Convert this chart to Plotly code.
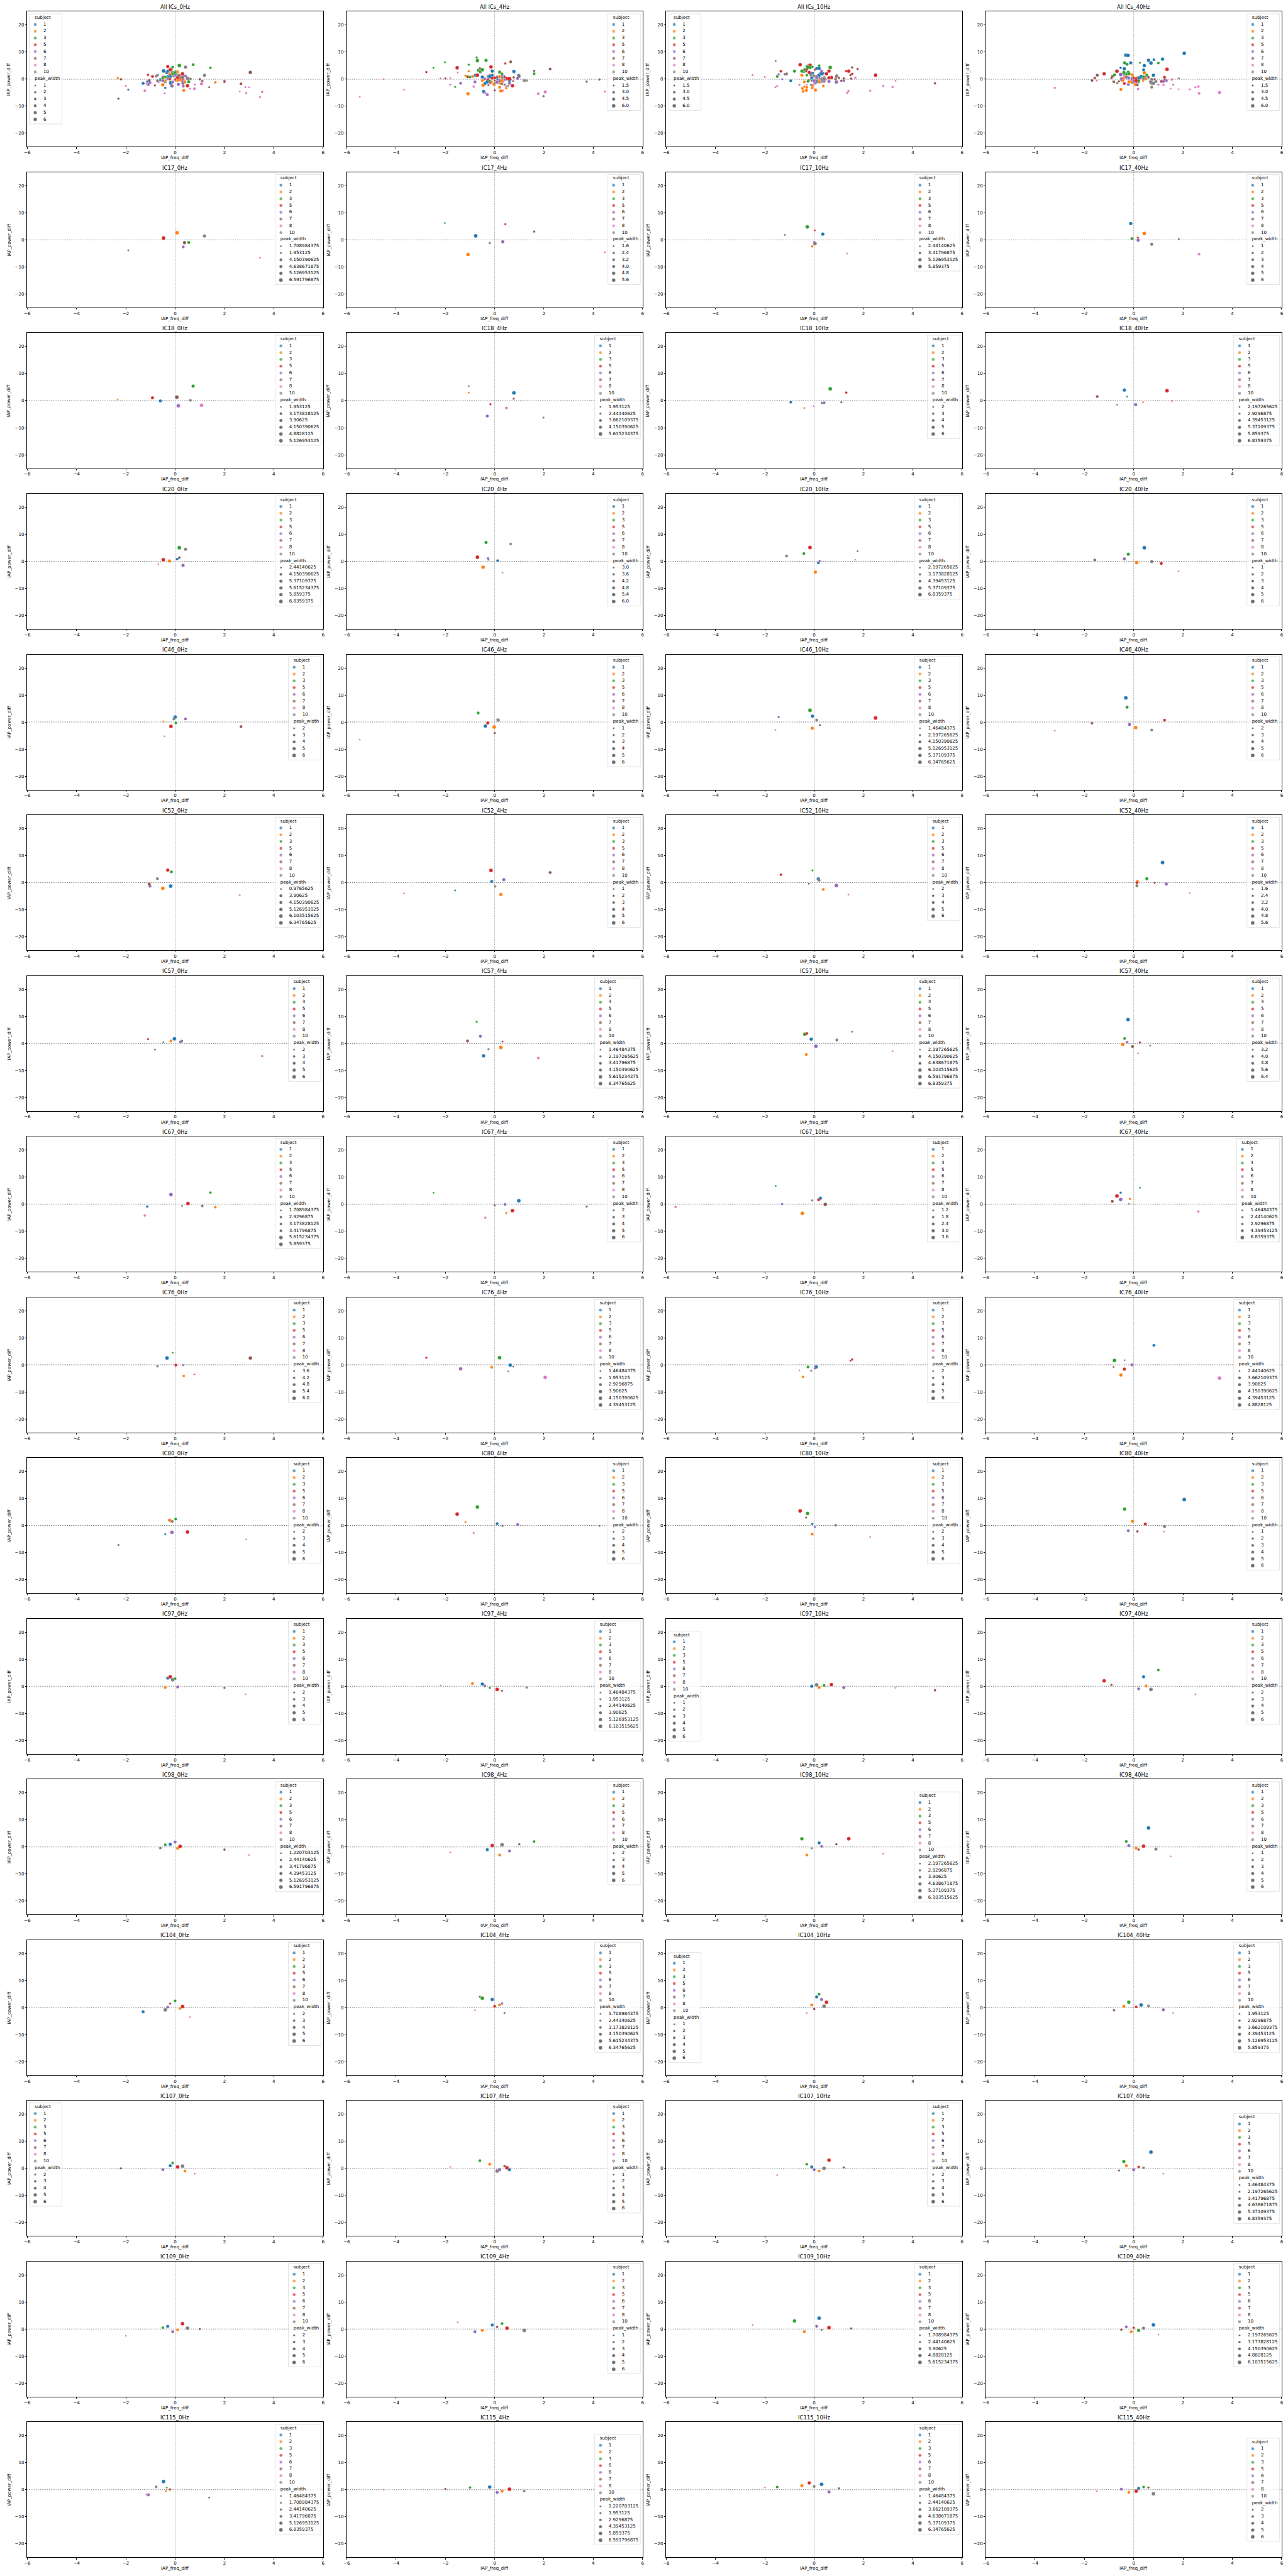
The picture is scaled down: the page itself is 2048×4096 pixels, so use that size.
import math
import plotly.graph_objects as go

# ---------------------------------------------------------------- categories
SUBJECTS = ["1", "2", "3", "5", "6", "7", "8", "10"]
SUBJECT_COLORS = ["#1f77b4", "#ff7f0e", "#2ca02c", "#d62728",
                  "#9467bd", "#8c564b", "#e377c2", "#7f7f7f"]
FREQS = ["0Hz", "4Hz", "10Hz", "40Hz"]
ICS = ["IC17", "IC18", "IC20", "IC46", "IC52", "IC57", "IC67", "IC76",
       "IC80", "IC97", "IC98", "IC104", "IC107", "IC109", "IC115"]
X_TICKS = [-6, -4, -2, 0, 2, 4, 6]
Y_TICKS = [-20, -10, 0, 10, 20]
X_RANGE = [-6, 6]
Y_RANGE = [-25, 25]
X_LABEL = "IAP_freq_diff"
Y_LABEL = "IAP_power_diff"

ALL_0Hz_ticks = ["1", "2", "3", "4", "5", "6"]
ALL_4Hz_ticks = ["1.5", "3.0", "4.5", "6.0"]
ALL_10Hz_ticks = ["1.5", "3.0", "4.5", "6.0"]
ALL_40Hz_ticks = ["1.5", "3.0", "4.5", "6.0"]

# ---------------------------------------------------------------- data
# every list is ordered by subject: 1, 2, 3, 5, 6, 7, 8, 10
IC17_0Hz_freq = [-1.90, 0.08, 0.55, -0.47, 0.33, 0.38, 3.44, 1.19]
IC17_0Hz_power = [-3.85, 2.66, -0.95, 0.68, -2.58, -1.00, -6.60, 1.47]
IC17_0Hz_width = [1.708984375, 6.591796875, 4.638671875, 6.591796875, 4.150390625, 5.126953125, 1.953125, 5.126953125]
IC17_0Hz_ticks = ["1.708984375", "1.953125", "4.150390625", "4.638671875", "5.126953125", "6.591796875"]

IC17_4Hz_freq = [-0.77, -1.08, -2.02, 0.43, 0.33, 1.60, 4.47, -0.20]
IC17_4Hz_power = [1.49, -5.37, 6.29, 5.83, -0.69, 3.09, -4.57, -1.14]
IC17_4Hz_width = [5.859375, 5.615234375, 1.46484375, 1.953125, 4.39453125, 2.197265625, 1.708984375, 2.44140625]
IC17_4Hz_ticks = ["1.6", "2.4", "3.2", "4.0", "4.8", "5.6"]

IC17_10Hz_freq = [0.35, -0.08, -0.28, 0.03, 0.00, -1.19, 1.34, 0.03]
IC17_10Hz_power = [2.17, -2.40, 4.80, 3.54, -0.80, 1.83, -5.03, -1.37]
IC17_10Hz_width = [5.126953125, 3.41796875, 5.859375, 2.44140625, 3.41796875, 2.44140625, 2.44140625, 5.859375]
IC17_10Hz_ticks = ["2.44140625", "3.41796875", "5.126953125", "5.859375"]

IC17_40Hz_freq = [-0.12, 0.43, -0.07, 0.17, 0.18, 1.83, 2.65, 0.73]
IC17_40Hz_power = [6.06, 2.40, 0.46, 0.80, -0.11, 0.34, -5.26, -1.60]
IC17_40Hz_width = [5.126953125, 6.103515625, 3.90625, 1.708984375, 4.638671875, 0.9765625, 3.41796875, 4.150390625]
IC17_40Hz_ticks = ["1", "2", "3", "4", "5", "6"]

IC18_0Hz_freq = [-0.60, -2.33, 0.73, -0.92, 0.13, 0.07, 1.07, 0.62]
IC18_0Hz_power = [-0.10, 0.46, 5.37, 1.03, -1.90, 1.26, -1.70, 0.10]
IC18_0Hz_width = [3.90625, 1.953125, 4.150390625, 3.90625, 4.8828125, 5.126953125, 4.8828125, 3.173828125]
IC18_0Hz_ticks = ["1.953125", "3.173828125", "3.90625", "4.150390625", "4.8828125", "5.126953125"]

IC18_4Hz_freq = [0.78, -1.05, -1.05, -0.17, -0.30, 0.77, 0.48, 1.98]
IC18_4Hz_power = [2.86, 2.97, 5.37, -1.37, -5.71, 0.69, -2.74, -6.29]
IC18_4Hz_width = [5.615234375, 1.953125, 1.953125, 2.44140625, 4.150390625, 2.44140625, 3.662109375, 2.44140625]
IC18_4Hz_ticks = ["1.953125", "2.44140625", "3.662109375", "4.150390625", "5.615234375"]

IC18_10Hz_freq = [-0.95, -0.40, 0.65, 1.30, 0.40, 1.10, -0.02, 0.32]
IC18_10Hz_power = [-0.57, -2.74, 4.34, 2.97, -0.80, -0.57, -2.06, -0.91]
IC18_10Hz_width = [3.90625, 2.197265625, 6.34765625, 2.9296875, 4.150390625, 2.44140625, 1.953125, 3.41796875]
IC18_10Hz_ticks = ["2", "3", "4", "5", "6"]

IC18_40Hz_freq = [-0.38, 0.38, -0.27, 1.35, 0.08, -1.48, 1.55, -0.67]
IC18_40Hz_power = [3.89, -0.57, 1.49, 3.66, -1.49, 1.49, -0.11, -1.49]
IC18_40Hz_width = [5.859375, 2.197265625, 2.197265625, 6.8359375, 5.37109375, 4.39453125, 2.9296875, 2.197265625]
IC18_40Hz_ticks = ["2.197265625", "2.9296875", "4.39453125", "5.37109375", "5.859375", "6.8359375"]

IC20_0Hz_freq = [0.08, -0.23, 0.17, -0.48, 0.32, 0.17, -0.68, 0.42]
IC20_0Hz_power = [0.80, 0.11, 5.03, 0.57, -1.49, 1.37, -1.03, 4.46]
IC20_0Hz_width = [4.150390625, 5.859375, 6.8359375, 6.8359375, 5.615234375, 4.150390625, 2.44140625, 5.37109375]
IC20_0Hz_ticks = ["2.44140625", "4.150390625", "5.37109375", "5.615234375", "5.859375", "6.8359375"]

IC20_4Hz_freq = [0.12, -0.47, -0.35, -0.70, -0.27, 0.65, 0.32, -0.25]
IC20_4Hz_power = [0.23, -2.17, 6.97, 1.49, 1.03, 6.40, -4.23, 0.60]
IC20_4Hz_width = [4.150390625, 5.859375, 4.8828125, 6.103515625, 4.39453125, 3.662109375, 2.9296875, 3.173828125]
IC20_4Hz_ticks = ["3.0", "3.6", "4.2", "4.8", "5.4", "6.0"]

IC20_10Hz_freq = [0.17, 0.05, -0.42, -0.17, 0.22, 1.76, 1.67, -1.12]
IC20_10Hz_power = [-0.57, -4.00, 2.86, 5.14, 0.11, 3.77, 0.57, 1.94]
IC20_10Hz_width = [4.39453125, 5.37109375, 4.39453125, 6.8359375, 3.173828125, 2.197265625, 2.197265625, 4.39453125]
IC20_10Hz_ticks = ["2.197265625", "3.173828125", "4.39453125", "5.37109375", "6.8359375"]

IC20_40Hz_freq = [0.43, 0.12, -0.22, 1.12, -0.38, -1.58, 1.82, 0.73]
IC20_40Hz_power = [5.03, -0.46, 2.63, -0.80, 0.91, 0.46, -3.66, -0.11]
IC20_40Hz_width = [6.103515625, 5.615234375, 4.39453125, 3.90625, 4.150390625, 3.173828125, 0.9765625, 4.638671875]
IC20_40Hz_ticks = ["1", "2", "3", "4", "5", "6"]

IC46_0Hz_freq = [0.00, -0.47, 0.03, -0.17, 0.42, 2.67, -0.43, -0.05]
IC46_0Hz_power = [1.83, 0.23, -0.34, -1.60, 1.14, -1.71, -5.26, 1.14]
IC46_0Hz_width = [5.615234375, 1.953125, 3.41796875, 6.103515625, 4.150390625, 3.662109375, 1.708984375, 3.90625]
IC46_0Hz_ticks = ["2", "3", "4", "5", "6"]

IC46_4Hz_freq = [-0.38, -0.02, -0.67, -0.28, 0.12, 0.00, -5.47, 0.15]
IC46_4Hz_power = [-1.49, -1.83, 3.31, -0.34, 0.90, -4.11, -6.51, 0.69]
IC46_4Hz_width = [5.615234375, 6.103515625, 3.90625, 4.39453125, 2.9296875, 1.953125, 0.9765625, 4.150390625]
IC46_4Hz_ticks = ["1", "2", "3", "4", "5", "6"]

IC46_10Hz_freq = [-0.07, -0.08, -0.17, 2.49, -1.44, 0.23, -1.57, 0.10]
IC46_10Hz_power = [2.17, -2.29, 4.34, 1.49, 1.83, -1.14, -2.97, 0.69]
IC46_10Hz_width = [5.37109375, 5.126953125, 6.34765625, 6.34765625, 2.197265625, 2.197265625, 1.46484375, 4.150390625]
IC46_10Hz_ticks = ["1.46484375", "2.197265625", "4.150390625", "5.126953125", "5.37109375", "6.34765625"]

IC46_40Hz_freq = [-0.32, 0.08, -0.27, 1.25, -0.17, -1.69, -3.20, 0.73]
IC46_40Hz_power = [8.91, -2.06, 5.49, 0.69, -0.91, -0.46, -3.20, -2.97]
IC46_40Hz_width = [6.103515625, 5.615234375, 4.39453125, 4.150390625, 4.638671875, 3.41796875, 1.953125, 3.90625]
IC46_40Hz_ticks = ["2", "3", "4", "5", "6"]

IC52_0Hz_freq = [-0.18, -0.50, -0.15, -0.30, -1.02, -1.05, 2.62, -0.72]
IC52_0Hz_power = [-1.26, -2.06, 4.00, 4.69, -1.26, -0.46, -4.57, 1.49]
IC52_0Hz_width = [6.34765625, 6.103515625, 3.90625, 5.126953125, 4.150390625, 4.150390625, 0.9765625, 3.90625]
IC52_0Hz_ticks = ["0.9765625", "3.90625", "4.150390625", "5.126953125", "6.103515625", "6.34765625"]

IC52_4Hz_freq = [-0.12, 0.25, -1.60, -0.15, 0.37, 2.25, -3.68, 0.02]
IC52_4Hz_power = [0.46, -4.34, -2.86, 4.57, 1.14, 3.77, -3.89, -1.37]
IC52_4Hz_width = [4.150390625, 4.8828125, 1.46484375, 6.103515625, 4.638671875, 3.662109375, 0.9765625, 2.44140625]
IC52_4Hz_ticks = ["1", "2", "3", "4", "5", "6"]

IC52_10Hz_freq = [0.17, 0.37, -0.07, -1.35, 0.90, -0.22, 1.39, 0.20]
IC52_10Hz_power = [1.37, -2.51, 4.57, 2.97, -1.03, -0.34, -4.34, 0.91]
IC52_10Hz_width = [5.37109375, 3.662109375, 2.44140625, 3.41796875, 6.103515625, 2.197265625, 1.953125, 3.90625]
IC52_10Hz_ticks = ["2", "3", "4", "5", "6"]

IC52_40Hz_freq = [1.17, 0.15, 0.53, 0.13, 1.32, 0.85, 2.27, 0.13]
IC52_40Hz_power = [7.43, 0.46, 1.49, 0.00, -0.46, 0.00, -3.77, -1.14]
IC52_40Hz_width = [5.859375, 4.39453125, 4.150390625, 3.662109375, 4.638671875, 2.197265625, 1.46484375, 3.90625]
IC52_40Hz_ticks = ["1.6", "2.4", "3.2", "4.0", "4.8", "5.6"]

IC57_0Hz_freq = [-0.03, -0.17, 0.27, -1.10, 0.22, -0.82, 3.53, -0.48]
IC57_0Hz_power = [1.71, 0.91, 0.91, 1.60, 0.57, -2.29, -4.69, 0.46]
IC57_0Hz_width = [6.103515625, 3.90625, 3.662109375, 2.44140625, 4.150390625, 1.953125, 2.9296875, 2.197265625]
IC57_0Hz_ticks = ["2", "3", "4", "5", "6"]

IC57_4Hz_freq = [-0.45, 0.25, -0.73, 0.32, -0.58, -1.10, 1.77, -0.25]
IC57_4Hz_power = [-4.57, -1.49, 8.00, 0.69, 2.63, 0.91, -5.37, -2.17]
IC57_4Hz_width = [5.615234375, 6.34765625, 2.197265625, 1.46484375, 4.150390625, 4.150390625, 3.41796875, 2.197265625]
IC57_4Hz_ticks = ["1.46484375", "2.197265625", "3.41796875", "4.150390625", "5.615234375", "6.34765625"]

IC57_10Hz_freq = [-0.12, -0.32, -0.38, -0.30, 0.07, 1.54, 3.18, 0.92]
IC57_10Hz_power = [1.60, -4.11, 3.43, 3.66, -1.03, 4.34, -2.86, 1.26]
IC57_10Hz_width = [6.103515625, 4.638671875, 6.591796875, 4.150390625, 6.8359375, 2.197265625, 2.197265625, 4.638671875]
IC57_10Hz_ticks = ["2.197265625", "4.150390625", "4.638671875", "6.103515625", "6.591796875", "6.8359375"]

IC57_40Hz_freq = [-0.23, -0.45, -0.37, 0.25, -0.27, -0.05, 0.18, 0.67]
IC57_40Hz_power = [8.80, -0.34, 1.83, 0.34, 0.46, -1.14, -3.66, -0.80]
IC57_40Hz_width = [6.591796875, 6.103515625, 4.638671875, 3.41796875, 4.39453125, 4.8828125, 2.9296875, 3.173828125]
IC57_40Hz_ticks = ["3.2", "4.0", "4.8", "5.6", "6.4"]

IC67_0Hz_freq = [-1.13, 1.63, 1.43, 0.52, -0.17, 0.28, -1.23, 1.10]
IC67_0Hz_power = [-0.91, -1.14, 4.23, 0.23, 3.54, -0.69, -4.23, -0.69]
IC67_0Hz_width = [2.9296875, 3.173828125, 2.9296875, 5.615234375, 5.859375, 1.708984375, 3.173828125, 3.41796875]
IC67_0Hz_ticks = ["1.708984375", "2.9296875", "3.173828125", "3.41796875", "5.615234375", "5.859375"]

IC67_4Hz_freq = [0.98, 0.47, -2.48, 0.72, 0.42, 0.00, -0.38, 3.73]
IC67_4Hz_power = [1.26, -3.31, 4.23, -2.40, -0.11, -0.46, -5.03, -0.91]
IC67_4Hz_width = [6.103515625, 2.197265625, 1.46484375, 5.859375, 3.90625, 1.953125, 2.44140625, 2.685546875]
IC67_4Hz_ticks = ["2", "3", "4", "5", "6"]

IC67_10Hz_freq = [0.25, -0.48, -1.56, 0.18, -1.30, 0.45, -5.62, -0.08]
IC67_10Hz_power = [2.17, -3.43, 6.74, 1.60, 0.00, -0.11, -1.03, 1.37]
IC67_10Hz_width = [3.173828125, 3.90625, 0.9765625, 2.44140625, 1.708984375, 3.662109375, 1.953125, 1.46484375]
IC67_10Hz_ticks = ["1.2", "1.8", "2.4", "3.0", "3.6"]

IC67_40Hz_freq = [-0.53, -0.15, 0.25, -0.68, -0.53, -0.87, 2.62, -0.20]
IC67_40Hz_power = [4.23, 1.94, 6.06, 2.97, 1.71, 1.03, -2.74, 0.11]
IC67_40Hz_width = [2.44140625, 2.44140625, 1.46484375, 6.8359375, 6.8359375, 4.39453125, 2.9296875, 1.46484375]
IC67_40Hz_ticks = ["1.46484375", "2.44140625", "2.9296875", "4.39453125", "6.8359375"]

IC76_0Hz_freq = [-0.33, 0.35, -0.10, 0.03, 0.32, 3.05, 0.78, -0.72]
IC76_0Hz_power = [2.51, -4.11, 4.46, -0.11, -0.11, 2.51, -3.54, -0.57]
IC76_0Hz_width = [6.103515625, 4.39453125, 3.41796875, 4.8828125, 3.90625, 5.859375, 3.662109375, 4.150390625]
IC76_0Hz_ticks = ["3.6", "4.2", "4.8", "5.4", "6.0"]

IC76_4Hz_freq = [0.63, -0.12, 0.20, -2.77, -1.38, 0.75, 2.05, 0.55]
IC76_4Hz_power = [-0.11, -0.91, 2.63, 2.63, -1.49, -0.69, -4.69, -2.40]
IC76_4Hz_width = [4.150390625, 2.9296875, 4.39453125, 1.953125, 3.90625, 1.46484375, 4.39453125, 1.46484375]
IC76_4Hz_ticks = ["1.46484375", "1.953125", "2.9296875", "3.90625", "4.150390625", "4.39453125"]

IC76_10Hz_freq = [0.08, -0.45, -0.25, 1.54, 0.03, 1.47, -0.60, -0.12]
IC76_10Hz_power = [-0.80, -4.46, -0.80, 1.94, -1.26, 1.49, -2.06, -2.17]
IC76_10Hz_width = [6.103515625, 3.41796875, 4.150390625, 2.9296875, 3.173828125, 2.197265625, 1.953125, 2.44140625]
IC76_10Hz_ticks = ["2", "3", "4", "5", "6"]

IC76_40Hz_freq = [0.82, -0.52, -0.78, -0.38, -0.07, -0.82, 3.48, -0.37]
IC76_40Hz_power = [7.20, -3.77, 1.60, -1.60, 0.00, -0.80, -4.91, 1.71]
IC76_40Hz_width = [3.662109375, 4.39453125, 4.8828125, 4.150390625, 3.90625, 2.44140625, 4.8828125, 2.44140625]
IC76_40Hz_ticks = ["2.44140625", "3.662109375", "3.90625", "4.150390625", "4.39453125", "4.8828125"]

IC80_0Hz_freq = [-0.40, -0.22, 0.02, 0.50, -0.13, -2.30, 2.88, -0.12]
IC80_0Hz_power = [-3.20, 1.94, 2.40, -2.40, -2.51, -7.20, -5.14, 1.49]
IC80_0Hz_width = [2.44140625, 5.37109375, 3.90625, 6.103515625, 5.615234375, 2.197265625, 1.953125, 4.150390625]
IC80_0Hz_ticks = ["2", "3", "4", "5", "6"]

IC80_4Hz_freq = [0.10, -1.18, -0.70, -1.52, 0.93, 4.25, -0.85, 0.32]
IC80_4Hz_power = [0.69, 1.26, 6.86, 4.23, 0.34, -0.11, -2.74, -0.11]
IC80_4Hz_width = [4.150390625, 2.197265625, 5.859375, 6.103515625, 4.39453125, 1.953125, 2.44140625, 2.685546875]
IC80_4Hz_ticks = ["2", "3", "4", "5", "6"]

IC80_10Hz_freq = [-0.08, -0.08, -0.27, -0.57, 0.03, -0.33, 2.27, 0.87]
IC80_10Hz_power = [0.57, -3.20, 4.46, 5.37, -0.57, 2.97, -4.23, 0.11]
IC80_10Hz_width = [2.9296875, 4.150390625, 5.615234375, 6.103515625, 2.685546875, 2.44140625, 1.953125, 3.90625]
IC80_10Hz_ticks = ["2", "3", "4", "5", "6"]

IC80_40Hz_freq = [2.05, -0.05, -0.37, 0.47, -0.22, 0.15, 1.22, 1.25]
IC80_40Hz_power = [9.60, 1.60, 6.06, 0.57, -1.94, -2.17, -2.29, -0.34]
IC80_40Hz_width = [6.34765625, 4.638671875, 5.126953125, 4.150390625, 3.90625, 2.685546875, 0.9765625, 4.39453125]
IC80_40Hz_ticks = ["1", "2", "3", "4", "5", "6"]

IC97_0Hz_freq = [-0.30, -0.40, 0.00, -0.20, 0.10, 2.00, 2.85, -0.10]
IC97_0Hz_power = [3.00, -0.50, 2.80, 3.50, -0.30, -0.60, -3.00, 2.40]
IC97_0Hz_width = [4.39453125, 3.90625, 3.41796875, 5.859375, 4.150390625, 2.44140625, 1.708984375, 6.103515625]
IC97_0Hz_ticks = ["2", "3", "4", "5", "6"]

IC97_4Hz_freq = [-0.50, -0.90, -0.20, 0.10, -0.40, 0.30, -2.20, 1.30]
IC97_4Hz_power = [0.80, 1.00, -0.60, -1.20, 0.10, -1.70, 0.30, -0.50]
IC97_4Hz_width = [5.126953125, 3.90625, 2.44140625, 6.103515625, 3.90625, 1.953125, 1.46484375, 2.44140625]
IC97_4Hz_ticks = ["1.46484375", "1.953125", "2.44140625", "3.90625", "5.126953125", "6.103515625"]

IC97_10Hz_freq = [-0.10, 0.20, 0.40, 0.70, 1.20, 4.90, 3.30, 0.10]
IC97_10Hz_power = [0.00, -0.50, 0.30, 0.60, -0.50, -1.50, -0.60, 0.50]
IC97_10Hz_width = [4.39453125, 3.90625, 3.41796875, 5.859375, 4.150390625, 2.44140625, 0.9765625, 6.103515625]
IC97_10Hz_ticks = ["1", "2", "3", "4", "5", "6"]

IC97_40Hz_freq = [0.40, 0.50, 1.00, -1.20, 0.20, -0.90, 2.50, 0.70]
IC97_40Hz_power = [3.50, 0.10, 6.00, 2.00, -1.00, 0.50, -3.00, -1.20]
IC97_40Hz_width = [4.39453125, 3.90625, 3.41796875, 5.859375, 4.150390625, 2.44140625, 1.708984375, 6.103515625]
IC97_40Hz_ticks = ["2", "3", "4", "5", "6"]

IC98_0Hz_freq = [-0.20, 0.10, -0.40, 0.20, 0.00, 2.00, 3.00, -0.60]
IC98_0Hz_power = [1.00, -0.50, 0.80, 0.20, 1.80, -1.00, -3.00, -0.40]
IC98_0Hz_width = [5.126953125, 4.39453125, 3.41796875, 6.591796875, 4.39453125, 2.44140625, 1.220703125, 3.41796875]
IC98_0Hz_ticks = ["1.220703125", "2.44140625", "3.41796875", "4.39453125", "5.126953125", "6.591796875"]

IC98_4Hz_freq = [-0.30, 0.20, 1.60, -0.10, 0.60, 1.00, -1.80, 0.30]
IC98_4Hz_power = [-1.00, -3.00, 2.00, 0.50, -1.50, 1.00, -2.00, 0.80]
IC98_4Hz_width = [4.39453125, 3.90625, 3.41796875, 5.859375, 4.150390625, 2.44140625, 1.708984375, 6.103515625]
IC98_4Hz_ticks = ["2", "3", "4", "5", "6"]

IC98_10Hz_freq = [0.20, -0.30, -0.50, 1.40, 0.30, 0.90, 2.80, -0.10]
IC98_10Hz_power = [1.50, -3.00, 3.00, 3.00, 0.20, 1.00, -2.50, -0.50]
IC98_10Hz_width = [4.638671875, 3.90625, 5.37109375, 6.103515625, 3.90625, 2.9296875, 2.197265625, 2.9296875]
IC98_10Hz_ticks = ["2.197265625", "2.9296875", "3.90625", "4.638671875", "5.37109375", "6.103515625"]

IC98_40Hz_freq = [0.60, 0.10, -0.30, 0.40, -0.20, 0.20, 1.50, 0.90]
IC98_40Hz_power = [7.00, -0.50, 2.00, 0.30, 0.50, -1.00, -3.50, -0.80]
IC98_40Hz_width = [6.103515625, 3.90625, 3.41796875, 5.859375, 4.150390625, 2.44140625, 0.9765625, 4.39453125]
IC98_40Hz_ticks = ["1", "2", "3", "4", "5", "6"]

IC104_0Hz_freq = [-1.30, 0.20, 0.00, 0.30, -0.30, -0.20, 0.60, -0.40]
IC104_0Hz_power = [-1.50, -0.30, 2.50, 0.40, 0.20, 1.50, -3.50, -0.80]
IC104_0Hz_width = [4.39453125, 3.90625, 3.41796875, 5.859375, 4.150390625, 2.44140625, 1.708984375, 6.103515625]
IC104_0Hz_ticks = ["2", "3", "4", "5", "6"]

IC104_4Hz_freq = [-0.10, 0.20, -0.50, 0.00, 0.30, -0.60, -0.80, 0.40]
IC104_4Hz_power = [3.00, 1.00, 3.50, 0.50, 1.50, 4.00, -1.00, -2.00]
IC104_4Hz_width = [5.615234375, 4.150390625, 6.34765625, 4.150390625, 3.173828125, 2.44140625, 1.708984375, 2.44140625]
IC104_4Hz_ticks = ["1.708984375", "2.44140625", "3.173828125", "4.150390625", "5.615234375", "6.34765625"]

IC104_10Hz_freq = [0.10, -0.10, 0.20, 0.50, 0.30, 0.00, -0.30, 0.40]
IC104_10Hz_power = [4.00, 1.00, 5.00, 2.00, 3.00, -0.50, -2.00, 0.50]
IC104_10Hz_width = [4.39453125, 3.90625, 3.41796875, 5.859375, 4.150390625, 2.44140625, 0.9765625, 6.103515625]
IC104_10Hz_ticks = ["1", "2", "3", "4", "5", "6"]

IC104_40Hz_freq = [0.30, -0.40, -0.20, 0.10, 1.20, -0.80, 1.60, 0.60]
IC104_40Hz_power = [1.00, 0.50, 2.00, 0.30, -0.80, -1.00, -2.00, 0.60]
IC104_40Hz_width = [5.859375, 4.39453125, 5.126953125, 3.662109375, 4.39453125, 2.9296875, 1.953125, 3.662109375]
IC104_40Hz_ticks = ["1.953125", "2.9296875", "3.662109375", "4.39453125", "5.126953125", "5.859375"]

IC107_0Hz_freq = [-0.20, 0.40, -0.10, 0.10, -0.50, -2.20, 0.80, 0.30]
IC107_0Hz_power = [1.00, -1.00, 2.00, 0.50, -0.50, 0.00, -2.00, 0.80]
IC107_0Hz_width = [4.39453125, 3.90625, 3.41796875, 5.859375, 4.150390625, 2.44140625, 1.708984375, 6.103515625]
IC107_0Hz_ticks = ["2", "3", "4", "5", "6"]

IC107_4Hz_freq = [0.60, -0.20, -0.60, 0.50, 0.20, 0.40, -1.80, 0.10]
IC107_4Hz_power = [-0.50, 1.50, 2.80, 0.20, -0.50, 0.80, 0.50, -1.00]
IC107_4Hz_width = [4.39453125, 3.90625, 3.41796875, 5.859375, 4.150390625, 2.44140625, 0.9765625, 6.103515625]
IC107_4Hz_ticks = ["1", "2", "3", "4", "5", "6"]

IC107_10Hz_freq = [-0.10, 0.20, -0.30, 0.60, 0.00, 1.20, -1.50, 0.40]
IC107_10Hz_power = [0.50, -1.00, 1.50, 3.00, -0.50, 0.30, -2.50, 0.00]
IC107_10Hz_width = [4.39453125, 3.90625, 3.41796875, 5.859375, 4.150390625, 2.44140625, 1.708984375, 6.103515625]
IC107_10Hz_ticks = ["2", "3", "4", "5", "6"]

IC107_40Hz_freq = [0.70, -0.30, -0.40, 0.20, 0.00, -0.60, 1.20, 0.40]
IC107_40Hz_power = [6.00, 1.00, 2.50, 0.50, -0.50, -0.80, -2.00, 0.20]
IC107_40Hz_width = [6.8359375, 4.638671875, 5.37109375, 3.41796875, 4.638671875, 2.197265625, 1.46484375, 3.41796875]
IC107_40Hz_ticks = ["1.46484375", "2.197265625", "3.41796875", "4.638671875", "5.37109375", "6.8359375"]

IC109_0Hz_freq = [-0.30, 0.10, -0.50, 0.30, -0.10, 1.00, -2.00, 0.50]
IC109_0Hz_power = [1.00, -0.30, 0.50, 2.00, -1.00, 0.00, -2.50, 0.30]
IC109_0Hz_width = [4.39453125, 3.90625, 3.41796875, 5.859375, 4.150390625, 2.44140625, 1.708984375, 6.103515625]
IC109_0Hz_ticks = ["2", "3", "4", "5", "6"]

IC109_4Hz_freq = [-0.10, -0.50, 0.30, 0.50, -0.80, 0.10, -1.50, 1.20]
IC109_4Hz_power = [1.50, -0.50, 2.00, 0.30, -1.00, 0.80, 2.50, -0.50]
IC109_4Hz_width = [4.39453125, 3.90625, 3.41796875, 5.859375, 4.150390625, 2.44140625, 0.9765625, 6.103515625]
IC109_4Hz_ticks = ["1", "2", "3", "4", "5", "6"]

IC109_10Hz_freq = [0.20, -0.40, -0.80, 0.60, 0.10, 1.50, -2.50, 0.30]
IC109_10Hz_power = [4.00, -1.00, 3.00, 0.50, 1.00, 0.20, 1.50, -0.30]
IC109_10Hz_width = [5.615234375, 3.90625, 4.8828125, 5.615234375, 3.90625, 2.44140625, 1.708984375, 2.44140625]
IC109_10Hz_ticks = ["1.708984375", "2.44140625", "3.90625", "4.8828125", "5.615234375"]

IC109_40Hz_freq = [0.80, -0.10, 0.20, 0.00, -0.30, -0.50, 1.00, 0.40]
IC109_40Hz_power = [1.50, -1.00, -0.50, 0.50, 0.80, -0.20, -2.00, 0.30]
IC109_40Hz_width = [6.103515625, 4.150390625, 4.8828125, 3.173828125, 4.150390625, 3.173828125, 2.197265625, 4.8828125]
IC109_40Hz_ticks = ["2.197265625", "3.173828125", "4.150390625", "4.8828125", "6.103515625"]

IC115_0Hz_freq = [-0.47, -0.38, -0.34, -0.21, -1.09, 1.38, -1.16, -0.77]
IC115_0Hz_power = [3.06, -0.56, 0.76, 0.08, -1.87, -2.94, -1.71, 1.07]
IC115_0Hz_width = [6.8359375, 1.708984375, 1.46484375, 2.44140625, 5.126953125, 1.46484375, 1.708984375, 3.41796875]
IC115_0Hz_ticks = ["1.46484375", "1.708984375", "2.44140625", "3.41796875", "5.126953125", "6.8359375"]

IC115_4Hz_freq = [-0.20, 0.30, -1.00, 0.60, 0.10, -2.00, -4.50, 1.20]
IC115_4Hz_power = [1.00, -0.50, 0.80, 0.20, -1.00, 0.30, 0.00, -0.50]
IC115_4Hz_width = [5.859375, 4.39453125, 2.9296875, 6.591796875, 4.39453125, 1.953125, 1.220703125, 2.9296875]
IC115_4Hz_ticks = ["1.220703125", "1.953125", "2.9296875", "4.39453125", "5.859375", "6.591796875"]

IC115_10Hz_freq = [0.30, -0.50, -1.50, -0.20, 0.60, 1.00, -2.00, 0.00]
IC115_10Hz_power = [2.00, 1.50, 1.00, 2.50, -0.80, 0.50, 0.80, 1.20]
IC115_10Hz_width = [6.34765625, 4.638671875, 3.662109375, 5.37109375, 4.638671875, 2.44140625, 1.46484375, 3.662109375]
IC115_10Hz_ticks = ["1.46484375", "2.44140625", "3.662109375", "4.638671875", "5.37109375", "6.34765625"]

IC115_40Hz_freq = [0.20, -0.20, 0.40, 0.10, -0.50, 0.60, -1.50, 0.80]
IC115_40Hz_power = [0.50, -1.00, 1.00, -0.50, 0.20, 0.80, -0.50, -1.50]
IC115_40Hz_width = [4.39453125, 3.90625, 3.41796875, 5.859375, 4.150390625, 2.44140625, 1.708984375, 6.103515625]
IC115_40Hz_ticks = ["2", "3", "4", "5", "6"]

# legend placement ("best" location picked by matplotlib); default upper right
LEGEND_LOC_ALL = ["ul", "ur", "ul", "ur"]
LEGEND_LOC_EXCEPTIONS = {"IC97_10Hz": "cl", "IC98_10Hz": "cr", "IC104_10Hz": "cl",
                         "IC107_0Hz": "ul", "IC107_40Hz": "cr", "IC115_40Hz": "cr",
                         "IC115_4Hz": "cr"}

# ---------------------------------------------------------------- layout (reference px)
S = 0.512
REF_W, REF_H = 4000.0, 8000.0
COL_LEFT = [75.0 + 996.2 * c for c in range(4)]
ROW_TOP = [36.0 + 499.07 * r for r in range(16)]
PLOT_W, PLOT_H = 922.5, 420.0
FONT = "DejaVu Sans"
FS = 13.9
FS_TITLE = 16.7

CHAR_W = {"0": .636, "1": .636, "2": .636, "3": .636, "4": .636, "5": .636, "6": .636,
          "7": .636, "8": .636, "9": .636, ".": .318, "s": .521, "u": .634, "b": .635,
          "j": .278, "e": .615, "c": .550, "t": .392, "p": .635, "a": .613, "k": .579,
          "_": .500, "w": .818, "i": .278, "d": .635, "h": .634}


def text_w(t):
    return sum(CHAR_W.get(ch, 0.6) for ch in t) * FS


def area_of(w, wmin, wmax):
    if wmax == wmin:
        return 45.0
    return 18.0 + 54.0 * (w - wmin) / (wmax - wmin)


def diam_px(area):
    area = min(max(area, 4.0), 110.0)
    return math.sqrt(area) * 100.0 / 72.0 * S


def px2x(px):
    return X_RANGE[0] + px * (X_RANGE[1] - X_RANGE[0]) / PLOT_W


def px2y(py):
    return Y_RANGE[1] - py * (Y_RANGE[1] - Y_RANGE[0]) / PLOT_H


def get(ic, fq, what):
    return globals()[f"{ic}_{fq}_{what}"]


fig = go.Figure()
shapes, annotations = [], []
layout_axes = {}

for r in range(16):
    for c, fq in enumerate(FREQS):
        k = r * 4 + c
        sfx = "" if k == 0 else str(k + 1)
        if r == 0:
            title = f"All ICs_{fq}"
            xs, ys, ws, cols = [], [], [], []
            for ic in ICS:
                xs += get(ic, fq, "freq")
                ys += get(ic, fq, "power")
                ws += get(ic, fq, "width")
                cols += SUBJECT_COLORS
            ticks = globals()[f"ALL_{fq}_ticks"]
            loc = LEGEND_LOC_ALL[c]
        else:
            ic = ICS[r - 1]
            title = f"{ic}_{fq}"
            xs, ys, ws = get(ic, fq, "freq"), get(ic, fq, "power"), get(ic, fq, "width")
            cols = SUBJECT_COLORS
            ticks = get(ic, fq, "ticks")
            loc = LEGEND_LOC_EXCEPTIONS.get(title, "ur")

        wmin, wmax = min(ws), max(ws)
        sizes = [diam_px(area_of(w, wmin, wmax)) for w in ws]

        left, top = COL_LEFT[c], ROW_TOP[r]
        xd = [left / REF_W, (left + PLOT_W) / REF_W]
        yd = [1 - (top + PLOT_H) / REF_H, 1 - top / REF_H]
        axcommon = dict(ticks="outside", ticklen=2.5, tickwidth=0.6, tickcolor="black",
                        showline=True, linecolor="black", linewidth=0.6, mirror=True,
                        showgrid=False, zeroline=False, fixedrange=True,
                        tickfont=dict(family=FONT, size=FS * S, color="black"))
        layout_axes["xaxis" + sfx] = dict(domain=xd, range=X_RANGE, tickvals=X_TICKS,
                                          anchor="y" + sfx, **axcommon)
        layout_axes["yaxis" + sfx] = dict(domain=yd, range=Y_RANGE, tickvals=Y_TICKS,
                                          anchor="x" + sfx, **axcommon)

        shapes.append(dict(type="line", xref=f"x{sfx} domain", yref=f"y{sfx}", x0=0, x1=1,
                           y0=0, y1=0, layer="below",
                           line=dict(color="#666666", width=1.1, dash="1.1px,1.8px")))
        shapes.append(dict(type="line", xref=f"x{sfx}", yref=f"y{sfx} domain", x0=0, x1=0,
                           y0=0, y1=1, layer="below",
                           line=dict(color="#808080", width=0.6, dash="2.6px,1.2px")))

        fig.add_trace(go.Scatter(
            x=xs, y=ys, mode="markers", xaxis="x" + sfx, yaxis="y" + sfx,
            marker=dict(color=cols, size=sizes, opacity=1,
                        line=dict(color="white", width=0.35)),
            showlegend=False, hoverinfo="skip"))

        entries = [("t", "subject")] + [("h", i) for i in range(len(SUBJECTS))] + \
                  [("t", "peak_width")] + [("s", lab) for lab in ticks]
        lab_w = max(text_w(l) for l in SUBJECTS + list(ticks))
        bw = max(16 + text_w("peak_width"), 43.6 + lab_w) + 6
        bh = 26 + (len(entries) - 1) * 21.05
        if loc[1] == "r":
            bl = PLOT_W - 7 - bw
        elif loc[1] == "l":
            bl = 7
        else:
            bl = (PLOT_W - bw) / 2
        if loc[0] == "u":
            bt = 7
        elif loc[0] == "l":
            bt = PLOT_H - 7 - bh
        else:
            bt = (PLOT_H - bh) / 2

        fig.add_trace(go.Scatter(
            x=[px2x(bl), px2x(bl + bw), px2x(bl + bw), px2x(bl), px2x(bl)],
            y=[px2y(bt), px2y(bt), px2y(bt + bh), px2y(bt + bh), px2y(bt)],
            mode="lines", fill="toself", fillcolor="rgba(255,255,255,0.8)",
            line=dict(color="#d0d0d0", width=0.6), xaxis="x" + sfx, yaxis="y" + sfx,
            showlegend=False, hoverinfo="skip"))

        mx, my, ms, mc, tx, ty, tt = [], [], [], [], [], [], []
        for j, (kind, val) in enumerate(entries):
            cy = bt + 12 + j * 21.05
            if kind == "t":
                tx.append(px2x(bl + 16)); ty.append(px2y(cy)); tt.append(val)
            elif kind == "h":
                mx.append(px2x(bl + 18)); my.append(px2y(cy))
                ms.append(4.9); mc.append(SUBJECT_COLORS[val])
                tx.append(px2x(bl + 43.6)); ty.append(px2y(cy)); tt.append(SUBJECTS[val])
            else:
                mx.append(px2x(bl + 18)); my.append(px2y(cy))
                ms.append(diam_px(area_of(float(val), wmin, wmax))); mc.append("#333333")
                tx.append(px2x(bl + 43.6)); ty.append(px2y(cy)); tt.append(val)
        fig.add_trace(go.Scatter(
            x=mx, y=my, mode="markers", xaxis="x" + sfx, yaxis="y" + sfx,
            marker=dict(color=mc, size=ms, line=dict(color="white", width=0.3)),
            showlegend=False, hoverinfo="skip", cliponaxis=False))
        fig.add_trace(go.Scatter(
            x=tx, y=ty, mode="text", text=tt, textposition="middle right",
            textfont=dict(family=FONT, size=FS * S, color="black"),
            xaxis="x" + sfx, yaxis="y" + sfx, showlegend=False, hoverinfo="skip",
            cliponaxis=False))

        annotations.append(dict(text=title, xref=f"x{sfx} domain", yref=f"y{sfx} domain",
                                x=0.5, y=1, xanchor="center", yanchor="middle",
                                yshift=14.3 * S, showarrow=False,
                                font=dict(family=FONT, size=FS_TITLE * S, color="black")))
        annotations.append(dict(text=X_LABEL, xref=f"x{sfx} domain", yref=f"y{sfx} domain",
                                x=0.5, y=0, xanchor="center", yanchor="middle",
                                yshift=-34 * S, showarrow=False,
                                font=dict(family=FONT, size=FS * S, color="black")))
        annotations.append(dict(text=Y_LABEL, xref=f"x{sfx} domain", yref=f"y{sfx} domain",
                                x=0, y=0.5, xanchor="center", yanchor="middle",
                                xshift=-56.5 * S, textangle=-90, showarrow=False,
                                font=dict(family=FONT, size=FS * S, color="black")))

fig.update_layout(width=2048, height=4096, margin=dict(l=0, r=0, t=0, b=0),
                  paper_bgcolor="white", plot_bgcolor="white", showlegend=False,
                  shapes=shapes, annotations=annotations, **layout_axes)
fig.write_html("out.html")
